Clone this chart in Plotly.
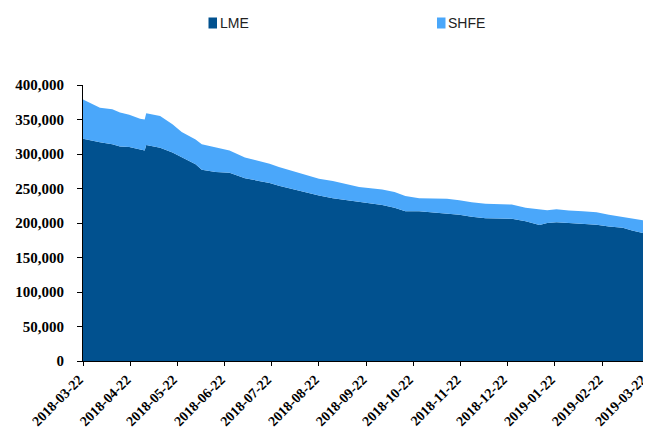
import plotly.graph_objects as go

# 库存数据（吨），读自原图
dates = [
    "2018-03-22", "2018-03-28", "2018-04-02", "2018-04-10", "2018-04-15", "2018-04-21",
    "2018-04-28", "2018-05-01", "2018-05-02", "2018-05-11", "2018-05-19", "2018-05-25",
    "2018-06-03", "2018-06-07", "2018-06-16", "2018-06-25", "2018-07-05", "2018-07-14",
    "2018-07-21", "2018-07-27", "2018-08-05", "2018-08-14", "2018-08-22", "2018-08-31",
    "2018-09-09", "2018-09-17", "2018-09-26", "2018-10-02", "2018-10-10", "2018-10-17",
    "2018-10-26", "2018-11-04", "2018-11-13", "2018-11-21", "2018-11-29", "2018-12-08",
    "2018-12-17", "2018-12-25", "2019-01-03", "2019-01-12", "2019-01-17", "2019-01-23",
    "2019-01-31", "2019-02-09", "2019-02-18", "2019-02-26", "2019-03-07", "2019-03-13",
    "2019-03-20", "2019-03-22",
]
lme = [
    322000, 319000, 317000, 314000, 311000, 310000,
    306000, 305000, 313000, 309000, 302000, 295000,
    285000, 277000, 274000, 273000, 265000, 261000,
    258000, 254000, 249000, 245000, 240000, 236000,
    233000, 230000, 228000, 226000, 222000, 217000,
    217000, 215500, 213600, 212000, 209000, 207000,
    206500, 206000, 202400, 197000, 200000, 201000,
    200000, 199000, 197600, 195000, 193000, 189000,
    185500, 180600,
]
shfe = [
    57000, 53000, 50000, 51000, 49000, 47000,
    45000, 45000, 46000, 46000, 41000, 37000,
    36000, 37000, 35000, 32000, 30000, 29000,
    28000, 27000, 26000, 25000, 24000, 25000,
    23000, 22000, 22000, 22500, 23000, 22000,
    19000, 19500, 21400, 21000, 21000, 21000,
    21000, 20700, 19600, 22000, 18400, 19000,
    18000, 18000, 18000, 17000, 16000, 18000,
    18500, 19400,
]
tick_dates = [
    "2018-03-22", "2018-04-22", "2018-05-22", "2018-06-22", "2018-07-22", "2018-08-22",
    "2018-09-22", "2018-10-22", "2018-11-22", "2018-12-22", "2019-01-22", "2019-02-22",
    "2019-03-22",
]
y_ticks = [0, 50000, 100000, 150000, 200000, 250000, 300000, 350000, 400000]

LME_COLOR = "#01518F"
SHFE_COLOR = "#4AA7FA"

# 页面 body 有 8px 外边距，图整体往右下偏 8px，这里扣掉
OFF = 8
W, H = 651 - OFF, 440 - OFF
ML, MR, MT, MB = 83 - OFF, 2, 85 - OFF, 79


def px_x(p):
    # 页面像素 -> paper 坐标
    return (p - OFF - ML) / (W - ML - MR)


def px_y(p):
    return (H - MB - (p - OFF)) / (H - MT - MB)


fig = go.Figure()

# 堆叠面积
fig.add_trace(go.Scatter(
    x=dates, y=lme, name="LME", mode="lines",
    stackgroup="one", line=dict(width=0, color=LME_COLOR),
    fillcolor=LME_COLOR,
))
fig.add_trace(go.Scatter(
    x=dates, y=shfe, name="SHFE", mode="lines",
    stackgroup="one", line=dict(width=0, color=SHFE_COLOR),
    fillcolor=SHFE_COLOR,
))

# 手工图例：小方块 + 文字
legend_font = dict(family="Liberation Sans Narrow, Arial Narrow, sans-serif", size=14, color="#222")
for name, color, left in [("LME", LME_COLOR, 208.5), ("SHFE", SHFE_COLOR, 437)]:
    fig.add_shape(
        type="rect", xref="paper", yref="paper",
        x0=px_x(left), x1=px_x(left + 8.5), y0=px_y(28.5), y1=px_y(17.5),
        fillcolor=color, line=dict(width=0),
    )
    fig.add_annotation(
        xref="paper", yref="paper", x=px_x(left + 9), y=px_y(23),
        text=name, showarrow=False, xanchor="left", yanchor="middle",
        font=legend_font,
    )

tick_font = dict(family="Liberation Serif, Times New Roman, serif", size=15,
                 color="black", weight="bold")

fig.update_layout(
    width=W,
    height=H,
    margin=dict(l=ML, r=MR, t=MT, b=MB),
    paper_bgcolor="white",
    plot_bgcolor="white",
    showlegend=False,
    xaxis=dict(
        type="date",
        range=["2018-03-22", "2019-03-24"],
        tickvals=tick_dates,
        ticktext=tick_dates,
        tickangle=-45,
        tickfont=dict(tick_font, size=14),
        ticklabeloverflow="allow",
        ticklabelshift=-4,
        ticks="outside", ticklen=4, tickcolor="black",
        showline=True, linecolor="black", linewidth=1,
        showgrid=False, zeroline=False,
        automargin=False,
    ),
    yaxis=dict(
        range=[0, 400000],
        tickvals=y_ticks,
        tickformat=",",
        tickfont=tick_font,
        ticks="outside", ticklen=5, tickcolor="black",
        ticklabelstandoff=10,
        showline=True, linecolor="black", linewidth=1,
        showgrid=False, zeroline=False,
        automargin=False,
    ),
)

fig.write_html("out.html")
